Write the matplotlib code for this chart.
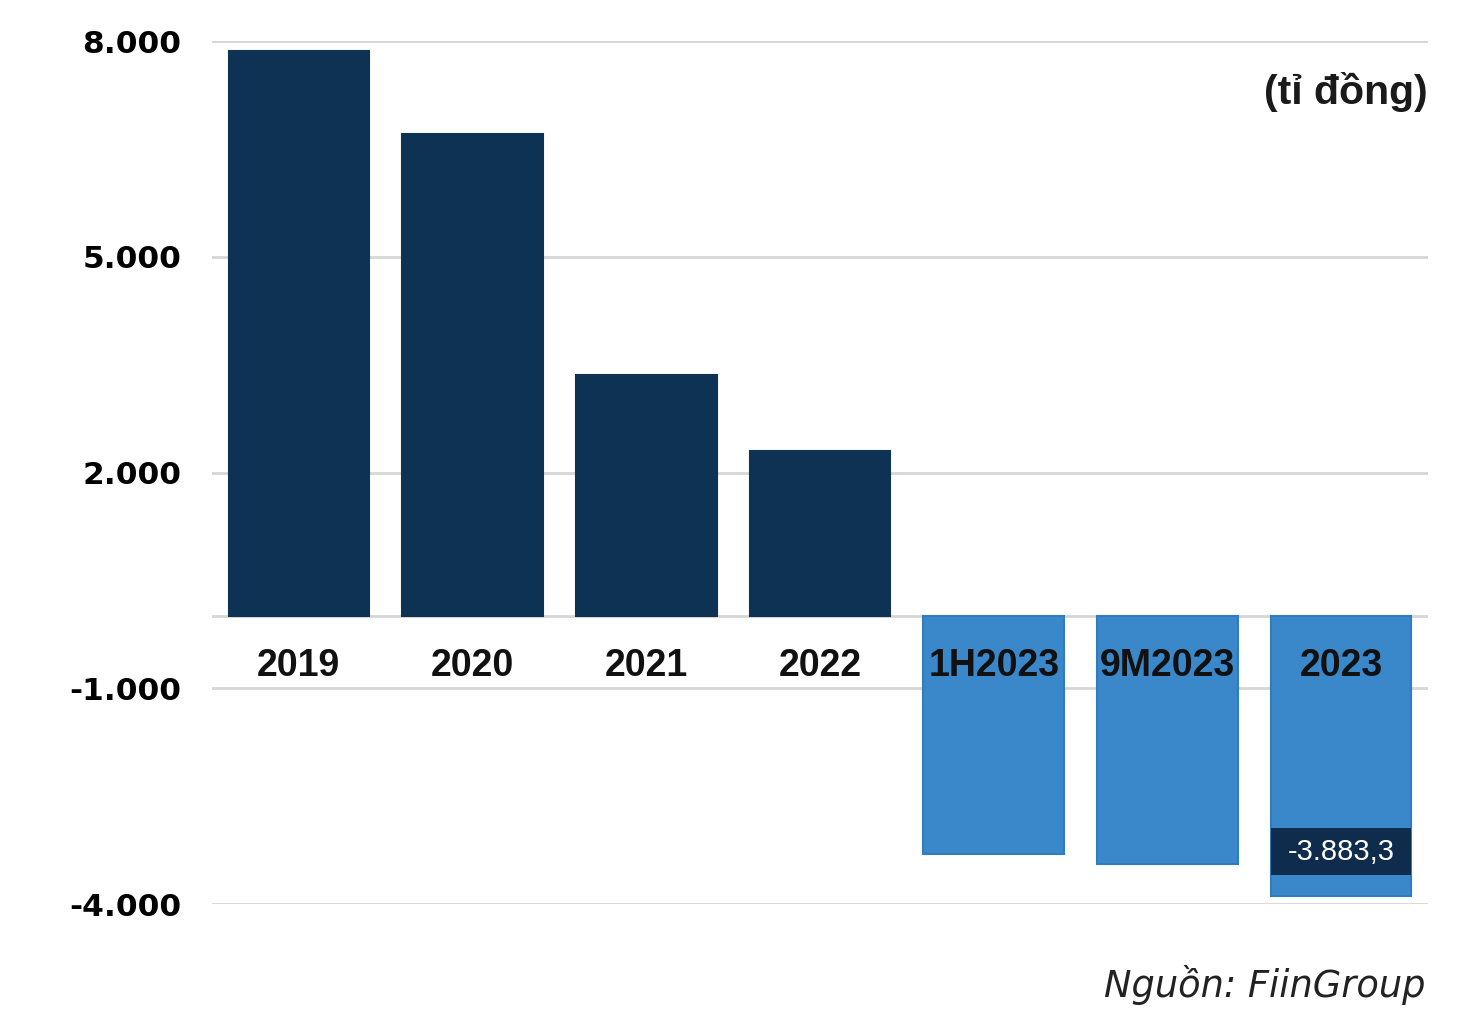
import matplotlib.pyplot as plt
from matplotlib.patches import Rectangle
import numpy as np

# data (ti dong)
categories = ["2019", "2020", "2021", "2022", "1H2023", "9M2023", "2023"]
values = [7860, 6710, 3360, 2305, -3300, -3440, -3883.3]
yticks = [8000, 5000, 2000, -1000, -4000]
ytick_labels = ["8.000", "5.000", "2.000", "-1.000", "-4.000"]
highlight_label = "-3.883,3"

navy = "#0e3254"
blue = "#3a88c9"
grid_c = "#d6d6d6"
bw = 0.81

fig = plt.figure(figsize=(14.76, 10.36), dpi=100)
ax = fig.add_axes([212/1476, 1 - 904/1036, (1428-212)/1476, (904-41)/1036])

x = np.arange(len(categories))
cols = [navy if v > 0 else blue for v in values]
edges = [navy if v > 0 else "#2f7cc0" for v in values]
ax.bar(x, values, width=bw, color=cols, edgecolor=edges, linewidth=1.5, zorder=2)

ax.set_xlim(-0.5, len(categories) - 0.5)
ax.set_ylim(-4000, 8000)
ax.set_yticks(yticks)
ax.set_yticklabels(ytick_labels, fontsize=22.5, fontweight="bold", family="DejaVu Sans")
ax.tick_params(axis="y", length=0, pad=22)
ax.set_xticks([])
for s in ax.spines.values():
    s.set_visible(False)
ax.yaxis.grid(True, color=grid_c, linewidth=2, zorder=0)
ax.axhline(0, color=grid_c, linewidth=2, zorder=1)
ax.set_axisbelow(True)

# category names sit just below zero
for xi, c in zip(x, categories):
    ax.text(xi, -690, c, ha="center", va="center", fontsize=27, fontweight="bold",
            family="Liberation Sans", color="#111111", zorder=4)

# value box on last bar (full bar width)
ax.add_patch(Rectangle((x[-1] - bw/2, -3590), bw, 640, facecolor="#0f2c4c",
                       edgecolor="none", zorder=4))
ax.text(x[-1], -3270, highlight_label, ha="center", va="center", fontsize=21,
        family="Liberation Sans", color="white", zorder=5)

fig.text(1428/1476, 1 - 92/1036, "(tỉ đồng)", ha="right", va="center", fontsize=29.5,
         fontweight="bold", family="Liberation Sans", color="#1a1a1a")
fig.text(1425/1476, 1 - 985/1036, "Nguồn: FiinGroup", ha="right", va="center", fontsize=26.5,
         style="italic", family="DejaVu Sans", color="#222222")

fig.savefig("out.png", dpi=100)
